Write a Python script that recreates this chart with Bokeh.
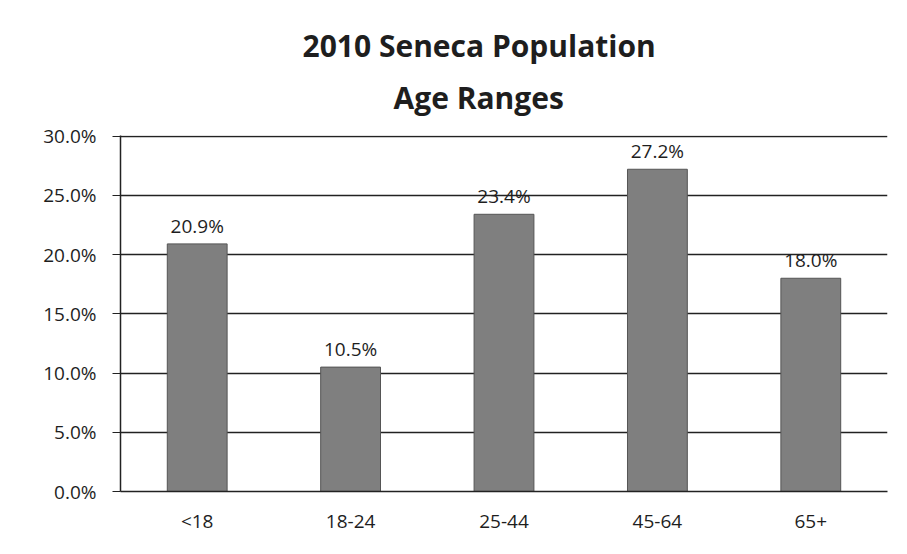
from bokeh.plotting import figure
from bokeh.models import ColumnDataSource, NumeralTickFormatter, FixedTicker, LabelSet, Range1d, Title
from bokeh.core.properties import value
from bokeh.embed import file_html
from bokeh.resources import INLINE

categories = ["<18", "18-24", "25-44", "45-64", "65+"]
shares = [0.209, 0.105, 0.234, 0.272, 0.180]
share_labels = ["20.9%", "10.5%", "23.4%", "27.2%", "18.0%"]
y_ticks = [0.0, 0.05, 0.10, 0.15, 0.20, 0.25, 0.30]
title_lines = ["2010 Seneca Population", "Age Ranges"]

FONT = "Open Sans"
TXT = "#1e1e1e"

src = ColumnDataSource(dict(cat=categories, val=shares, lab=share_labels))

p = figure(x_range=categories, y_range=Range1d(0, 0.3005), width=907, height=554,
           output_backend="svg", toolbar_location=None,
           min_border_left=120, min_border_right=20, min_border_top=0, min_border_bottom=63)
p.outline_line_color = None
p.background_fill_color = "white"
p.border_fill_color = "white"

p.vbar(x="cat", top="val", width=0.39, source=src, fill_color="#7f7f7f",
       line_color="#555555", line_width=1)

p.add_layout(LabelSet(x="cat", y="val", text="lab", source=src, text_align="center",
                      text_baseline="bottom", y_offset=5, text_font=value(FONT),
                      text_font_size=value("19px"), text_color=value(TXT)))

p.xgrid.grid_line_color = None
p.ygrid.grid_line_color = "#222222"
p.ygrid.grid_line_width = 1.5
p.ygrid.ticker = FixedTicker(ticks=y_ticks)

p.yaxis.ticker = FixedTicker(ticks=y_ticks)
p.yaxis.formatter = NumeralTickFormatter(format="0.0%")
p.yaxis.axis_line_color = "#222222"
p.yaxis.axis_line_width = 1.5
p.yaxis.major_tick_line_color = "#222222"
p.yaxis.major_tick_in = 0
p.yaxis.major_tick_out = 8
p.yaxis.minor_tick_line_color = None
p.yaxis.major_label_standoff = 16
p.yaxis.major_label_text_font = FONT
p.yaxis.major_label_text_font_size = "19px"
p.yaxis.major_label_text_color = TXT

p.xaxis.axis_line_color = "#222222"
p.xaxis.axis_line_width = 1.5
p.xaxis.major_tick_line_color = None
p.xaxis.major_label_text_font = FONT
p.xaxis.major_label_text_font_size = "19px"
p.xaxis.major_label_text_color = TXT
p.xaxis.major_label_standoff = 10

# top spacer (empty title)
p.title = Title(text=" ", text_font=FONT, text_font_size="10px", standoff=14)
p.add_layout(Title(text=title_lines[1], align="left", text_font=FONT, text_font_size="30px",
                   text_font_style="bold", text_color=TXT, standoff=35, offset=273), "above")
p.add_layout(Title(text=title_lines[0], align="left", text_font=FONT, text_font_size="30px",
                   text_font_style="bold", text_color=TXT, standoff=-16, offset=182), "above")

open("out.html", "w").write(file_html(p, INLINE))
